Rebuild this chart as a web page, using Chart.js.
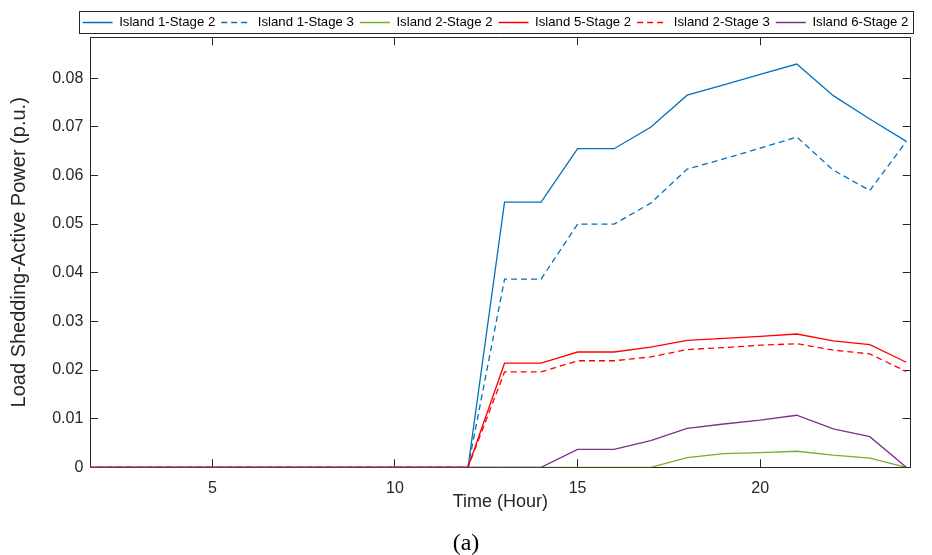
<!DOCTYPE html>
<html>
<head>
<meta charset="utf-8">
<script src="https://cdn.jsdelivr.net/npm/chart.js@4.4.1/dist/chart.umd.min.js"></script>
<style>
  html, body { margin: 0; padding: 0; background: #fff; }
</style>
</head>
<body>
<canvas id="chartCanvas" width="932" height="555"></canvas>
<script>
// hours 1..24 (axis is cut at ~1.65 like the original figure)
const hours = [1, 2, 3, 4, 5, 6, 7, 8, 9, 10, 11, 12, 13, 14, 15, 16, 17, 18, 19, 20, 21, 22, 23, 24];

const island1Stage2 = [0, 0, 0, 0, 0, 0, 0, 0, 0, 0, 0, 0,
  0.0545, 0.0545, 0.0655, 0.0655, 0.0699, 0.0765, 0.0786, 0.0808, 0.0829, 0.0764, 0.0716, 0.0670];
const island1Stage3 = [0, 0, 0, 0, 0, 0, 0, 0, 0, 0, 0, 0,
  0.0387, 0.0387, 0.0500, 0.0500, 0.0543, 0.0613, 0.0634, 0.0656, 0.0679, 0.0611, 0.0569, 0.0670];
const island2Stage2 = [0, 0, 0, 0, 0, 0, 0, 0, 0, 0, 0, 0, 0, 0, 0, 0, 0,
  0.0020, 0.0028, 0.0030, 0.0033, 0.0025, 0.0019, 0];
const island5Stage2 = [0, 0, 0, 0, 0, 0, 0, 0, 0, 0, 0, 0,
  0.0214, 0.0214, 0.0237, 0.0237, 0.0247, 0.0261, 0.0265, 0.0269, 0.0274, 0.0260, 0.0252, 0.0216];
const island2Stage3 = [0, 0, 0, 0, 0, 0, 0, 0, 0, 0, 0, 0,
  0.0196, 0.0196, 0.0219, 0.0219, 0.0227, 0.0242, 0.0246, 0.0251, 0.0254, 0.0241, 0.0233, 0.0197];
const island6Stage2 = [0, 0, 0, 0, 0, 0, 0, 0, 0, 0, 0, 0, 0, 0,
  0.0037, 0.0037, 0.0055, 0.0080, 0.0089, 0.0097, 0.0107, 0.0079, 0.0063, 0];

const seriesNames = ['Island 1-Stage 2', 'Island 1-Stage 3', 'Island 2-Stage 2',
  'Island 5-Stage 2', 'Island 2-Stage 3', 'Island 6-Stage 2'];
const seriesValues = [island1Stage2, island1Stage3, island2Stage2, island5Stage2, island2Stage3, island6Stage2];
const seriesColors = ['#0072BD', '#0072BD', '#77AC30', '#FF0000', '#FF0000', '#7E2F8E'];
const seriesDashed = [false, true, false, false, true, false];

const xMin = 1.65, xMax = 24.12;
const yMin = 0, yMax = 0.0884;

const axisColor = '#262626';
const sans = "'Liberation Sans', Arial, Helvetica, sans-serif";
const legendFontSize = 13.2;
const legendPadding = 6;

const datasets = seriesNames.map((name, i) => ({
  label: name,
  data: hours.map((h, k) => ({ x: h, y: seriesValues[i][k] })),
  borderColor: seriesColors[i],
  backgroundColor: seriesColors[i],
  borderWidth: 1.3,
  borderDash: seriesDashed[i] ? [6, 4] : [],
  pointRadius: 0,
  tension: 0,
  fill: false,
  order: seriesNames.length - i // later series drawn on top, as in matlab
}));

// box around the legend, legend moved over the plot, and the (a) caption
const legendFrame = {
  id: 'legendFrame',
  afterLayout(chart) {
    const lg = chart.legend;
    const dx = 495.5 - (lg.left + lg.right) / 2;
    lg.left += dx;
    lg.right += dx;
    const dy = 22.5 - legendPadding - legendFontSize / 2 - lg.top;
    lg.top += dy;
    lg.bottom += dy;
  },
  afterDraw(chart) {
    const ctx = chart.ctx;
    const boxes = chart.legend.legendHitBoxes;
    const first = boxes[0];
    const last = boxes[boxes.length - 1];
    const left = Math.round(first.left - 4) + 0.5;
    const right = Math.round(last.left + last.width + 5) + 0.5;
    ctx.save();
    ctx.strokeStyle = axisColor;
    ctx.lineWidth = 1;
    ctx.strokeRect(left, 11.5, right - left, 22);
    ctx.fillStyle = '#000';
    ctx.font = "24px 'Liberation Serif', 'Times New Roman', serif";
    ctx.textAlign = 'center';
    ctx.textBaseline = 'alphabetic';
    ctx.fillText('(a)', 466, 550);
    ctx.restore();
  }
};

const innerGrid = { drawOnChartArea: false, drawTicks: true, tickLength: -8, color: axisColor, lineWidth: 1 };
const axisBorder = { display: true, color: axisColor, width: 1 };

const chart = new Chart(document.getElementById('chartCanvas'), {
  type: 'line',
  data: { datasets: datasets },
  options: {
    responsive: false,
    animation: false,
    devicePixelRatio: 1,
    layout: { padding: 0 },
    plugins: {
      tooltip: { enabled: false },
      legend: {
        position: 'top',
        align: 'center',
        labels: {
          usePointStyle: true,
          pointStyle: 'line',
          pointStyleWidth: 30,
          padding: legendPadding,
          color: '#000',
          font: { family: sans, size: legendFontSize },
          sort: (a, b) => a.datasetIndex - b.datasetIndex,
          generateLabels: c => {
            const items = Chart.defaults.plugins.legend.labels.generateLabels(c);
            items.forEach(it => {
              const ds = c.data.datasets[it.datasetIndex];
              it.lineDash = ds.borderDash;
              it.strokeStyle = ds.borderColor;
              it.lineWidth = ds.borderWidth;
            });
            return items;
          }
        }
      }
    },
    scales: {
      x: {
        type: 'linear',
        position: 'bottom',
        min: xMin,
        max: xMax,
        afterFit: s => { s.height = 87.7; },
        ticks: { stepSize: 5, includeBounds: false, maxRotation: 0, padding: 20, color: axisColor, font: { family: sans, size: 16 } },
        grid: innerGrid,
        border: axisBorder,
        title: {
          display: true,
          text: 'Time (Hour)',
          color: axisColor,
          font: { family: sans, size: 18 },
          padding: { top: 0, bottom: 42 }
        }
      },
      x2: {
        type: 'linear',
        axis: 'x',
        position: 'top',
        min: xMin,
        max: xMax,
        // legend box is fontSize + padding + 10 tall; plot top sits at 37.3
        afterFit: s => { s.height = 37.3 - (legendFontSize + legendPadding + 10); },
        ticks: { display: false, stepSize: 5, includeBounds: false },
        grid: innerGrid,
        border: axisBorder
      },
      y: {
        type: 'linear',
        position: 'left',
        min: yMin,
        max: yMax,
        afterFit: s => { s.width = 90; },
        ticks: {
          stepSize: 0.01,
          includeBounds: false,
          padding: 14.7,
          color: axisColor,
          font: { family: sans, size: 16 },
          callback: v => (Math.abs(v) < 1e-9 ? '0' : v.toFixed(2))
        },
        grid: innerGrid,
        border: axisBorder,
        title: {
          display: true,
          text: 'Load Shedding-Active Power (p.u.)',
          color: axisColor,
          font: { family: sans, size: 20 },
          padding: { top: 7.3, bottom: 0 }
        }
      },
      y2: {
        type: 'linear',
        axis: 'y',
        position: 'right',
        min: yMin,
        max: yMax,
        afterFit: s => { s.width = 21.3; },
        ticks: { display: false, stepSize: 0.01, includeBounds: false },
        grid: innerGrid,
        border: axisBorder
      }
    }
  },
  plugins: [legendFrame]
});
</script>
</body>
</html>
